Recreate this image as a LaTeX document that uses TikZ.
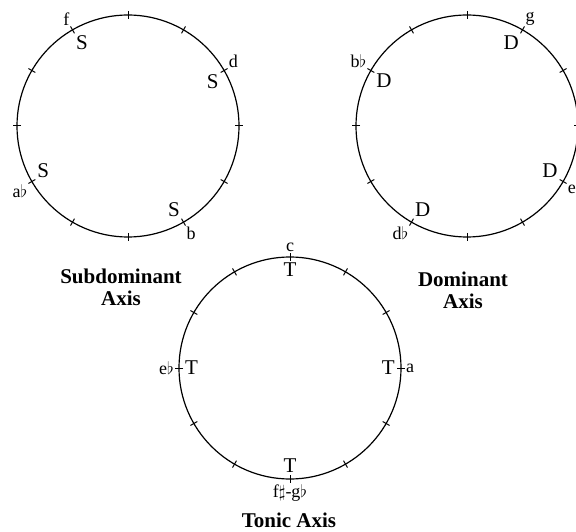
\documentclass[tikz,border=0pt]{standalone}
\usepackage{fontspec}
\setmainfont{Liberation Serif}
\usetikzlibrary{positioning}
\tikzset{
  wheel/.style={circle,draw,line width=1.2pt,minimum size=222pt,inner sep=0pt},
  notch/.style={line width=1pt},
  pitch/.style={font=\fontsize{18}{18}\selectfont,inner sep=1pt,label distance=4pt},
  role/.style={font=\fontsize{21}{21}\selectfont,inner sep=1pt,label distance=5pt},
  axisname/.style={font=\bfseries\fontsize{21}{22}\selectfont,align=center},
}

\begin{document}
\begin{tikzpicture}[x=1pt,y=1pt]
  \useasboundingbox (0,0) rectangle (576,531);

  % the three wheels
  \node[wheel] (subwheel) at (128,405) {};
  \node[wheel] (domwheel) at (467,405) {};
  \node[wheel] (tonwheel) at (290,163) {};

  % subdominant
  \begin{scope}[shift={(subwheel.center)}]
    \foreach \a in {0,30,...,330} \draw[notch] (\a:107) -- (\a:115);
    \coordinate[label={[pitch]120:f},label={[role]-60:S}] (subf) at (120:111);
    \coordinate[label={[pitch]30:d},label={[role]210:S}] (subd) at (30:111);
    \coordinate[label={[pitch]-60:b},label={[role]120:S}] (subb) at (-60:111);
    \coordinate[label={[pitch]-150:a$\flat$},label={[role]30:S}] (subab) at (-150:111);
  \end{scope}
  \node[axisname] (subname) at (121,244) {Subdominant\\Axis};

  % dominant
  \begin{scope}[shift={(domwheel.center)}]
    \foreach \a in {0,30,...,330} \draw[notch] (\a:107) -- (\a:115);
    \coordinate[label={[pitch]60:g},label={[role]240:D}] (domg) at (60:111);
    \coordinate[label={[pitch]-30:e},label={[role]150:D}] (dome) at (-30:111);
    \coordinate[label={[pitch]-120:d$\flat$},label={[role]60:D}] (domdb) at (-120:111);
    \coordinate[label={[pitch]150:b$\flat$},label={[role]-30:D}] (dombb) at (150:111);
  \end{scope}
  \node[axisname] (domname) at (463,241) {Dominant\\Axis};

  % tonic
  \begin{scope}[shift={(tonwheel.center)}]
    \foreach \a in {0,30,...,330} \draw[notch] (\a:107) -- (\a:115);
    \coordinate[label={[pitch]90:c},label={[role]-90:T}] (tonc) at (90:111);
    \coordinate[label={[pitch]0:a},label={[role]180:T}] (tona) at (0:111);
    \coordinate[label={[pitch]-90:f$\sharp$-g$\flat$},label={[role]90:T}] (tonfs) at (-90:111);
    \coordinate[label={[pitch]180:e$\flat$},label={[role]0:T}] (toneb) at (180:111);
  \end{scope}
  \node[axisname] (tonname) at (289,11) {Tonic Axis};
\end{tikzpicture}
\end{document}
